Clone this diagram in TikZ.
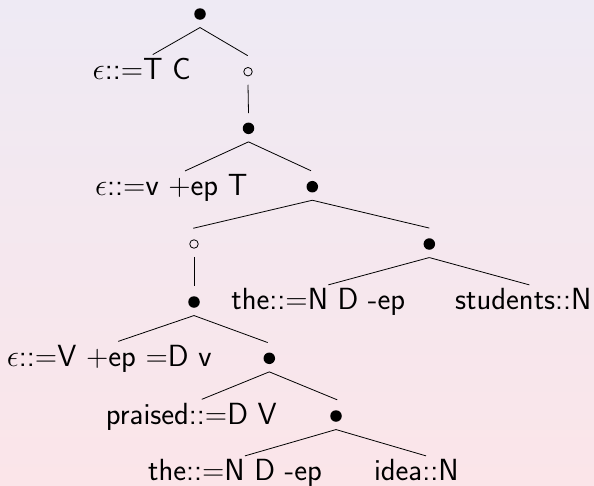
\RequirePackage{fix-cm}
\documentclass[tikz,border=0pt]{standalone}
\definecolor{bgtop}{RGB}{238,234,244}
\definecolor{bgbot}{RGB}{251,229,233}
\tikzset{
  bul/.style={circle,fill=black,inner sep=0pt,minimum size=11.5pt},
  ring/.style={circle,draw=black,line width=0.8pt,inner sep=0pt,minimum size=8.5pt},
  lex/.style={anchor=base,inner sep=0pt,font=\sffamily\fontsize{30.6}{36}\selectfont},
  edge/.style={line width=0.8pt,black}
}
\begin{document}
\begin{tikzpicture}[x=1pt,y=-1pt]
\shade[top color=bgtop,bottom color=bgbot] (0,0) rectangle (594,485);
\useasboundingbox (0,0) rectangle (594,485);
% internal nodes
\node[bul]  (r)  at (200,14) {};
\node[ring] (o1) at (248,71.7) {};
\node[bul]  (b2) at (248.5,128.3) {};
\node[bul]  (b3) at (312.3,186.7) {};
\node[ring] (o4) at (194,244) {};
\node[bul]  (b5) at (429.3,244) {};
\node[bul]  (b6) at (194,302) {};
\node[bul]  (b7) at (269.3,358.3) {};
\node[bul]  (b8) at (336,416) {};
% leaves
\node[lex] (t1) at (141.7,79.3) {$\epsilon$::=T C};
\node[lex] (t2) at (171.3,195.5) {$\epsilon$::=v +ep T};
\node[lex] (t3) at (318.3,309.5) {the::=N D -ep};
\node[lex] (t4) at (523.3,309.5) {students::N};
\node[lex] (t5) at (109.2,366) {$\epsilon$::=V +ep =D v};
\node[lex] (t6) at (191.3,424) {praised::=D V};
\node[lex] (t7) at (235,480.5) {the::=N D -ep};
\node[lex] (t8) at (416.3,480.5) {idea::N};
% edges
\draw[edge] ([yshift=-7.6pt]r.south) -- ([xshift=11pt,yshift=3.2pt]t1.north);
\draw[edge] ([yshift=-7.6pt]r.south) -- ([xshift=-0.3pt,yshift=11.4pt]o1.north);
\draw[edge] ([yshift=-8.4pt]o1.south) -- ([yshift=9.3pt]b2.north);
\draw[edge] ([yshift=-7.6pt]b2.south) -- ([xshift=13.7pt,yshift=3.2pt]t2.north);
\draw[edge] ([yshift=-7.6pt]b2.south) -- ([xshift=-1.3pt,yshift=10pt]b3.north);
\draw[edge] ([yshift=-7.6pt]b3.south) -- ([xshift=-0.7pt,yshift=11.1pt]o4.north);
\draw[edge] ([yshift=-7.6pt]b3.south) -- ([yshift=10pt]b5.north);
\draw[edge] ([yshift=-8.1pt]o4.south) -- ([yshift=10.3pt]b6.north);
\draw[edge] ([yshift=-7.6pt]b5.south) -- ([xshift=10pt,yshift=3.2pt]t3.north);
\draw[edge] ([yshift=-7.6pt]b5.south) -- ([xshift=6pt,yshift=3.2pt]t4.north);
\draw[edge] ([yshift=-7.6pt]b6.south) -- ([xshift=9pt,yshift=3.2pt]t5.north);
\draw[edge] ([yshift=-7.6pt]b6.south) -- ([xshift=-1.6pt,yshift=9.8pt]b7.north);
\draw[edge] ([yshift=-7.6pt]b7.south) -- ([xshift=10.4pt,yshift=3.2pt]t6.north);
\draw[edge] ([yshift=-7.6pt]b7.south) -- ([xshift=1.3pt,yshift=10.2pt]b8.north);
\draw[edge] ([yshift=-7.6pt]b8.south) -- ([xshift=10pt,yshift=3.2pt]t7.north);
\draw[edge] ([yshift=-7.6pt]b8.south) -- ([xshift=9.7pt,yshift=3.2pt]t8.north);
\end{tikzpicture}
\end{document}
